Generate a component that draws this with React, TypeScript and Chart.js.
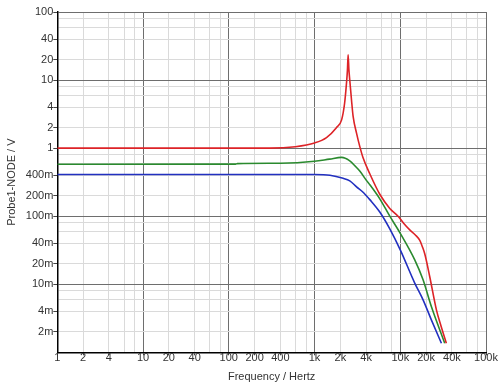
import React, { useEffect, useRef } from 'react';
import { Chart, registerables } from 'chart.js';

Chart.register(...registerables);

// Frequency (Hz) / voltage (V) samples
const redFreq = [1, 300, 600, 1000, 1380, 1800, 2070, 2245, 2360, 2420, 2466, 2520, 2577, 2700, 2820, 3090, 3370, 3683, 4413, 5770, 7550, 9430, 11000, 12900, 15000, 16900, 18200, 19300, 22080, 26400, 30000, 34500];
const redVolt = [1, 1.0, 1.05, 1.19, 1.43, 2.0, 2.6, 4.6, 9, 14, 23.5, 14, 10, 5.1, 2.92, 1.66, 1.06, 0.72, 0.42, 0.21, 0.13, 0.1, 0.078, 0.063, 0.053, 0.044, 0.035, 0.028, 0.0129, 0.0042, 0.0024, 0.00136];

const greenFreq = [1, 120, 126, 400, 1000, 1500, 2070, 2577, 3000, 3370, 4070, 4413, 5770, 7550, 10000, 14750, 18450, 23050, 33000];
const greenVolt = [0.58, 0.582, 0.592, 0.6, 0.64, 0.69, 0.73, 0.65, 0.54, 0.46, 0.33, 0.29, 0.18, 0.1, 0.056, 0.0228, 0.0116, 0.0047, 0.00136];

const blueFreq = [1, 1000, 1513, 2155, 2577, 3090, 3683, 4413, 5770, 7550, 10000, 14750, 18450, 23050, 30200];
const blueVolt = [0.41, 0.41, 0.4, 0.36, 0.33, 0.27, 0.225, 0.175, 0.115, 0.065, 0.032, 0.0104, 0.0059, 0.003, 0.00136];

const xTickValues = [1, 2, 4, 6, 8, 10, 20, 40, 60, 80, 100, 200, 400, 600, 800, 1000, 2000, 4000, 6000, 8000, 10000, 20000, 40000, 60000, 80000, 100000];
const xTickLabels = ['1', '2', '4', '', '', '10', '20', '40', '', '', '100', '200', '400', '', '', '1k', '2k', '4k', '', '', '10k', '20k', '40k', '', '', '100k'];

const yTickValues = [0.001, 0.002, 0.004, 0.006, 0.008, 0.01, 0.02, 0.04, 0.06, 0.08, 0.1, 0.2, 0.4, 0.6, 0.8, 1, 2, 4, 6, 8, 10, 20, 40, 60, 80, 100];
const yTickLabels = ['', '2m', '4m', '', '', '10m', '20m', '40m', '', '', '100m', '200m', '400m', '', '', '1', '2', '4', '', '', '10', '20', '40', '', '', '100'];

const FONT = '"Liberation Sans", Arial, sans-serif';

const isDecade = (v: number) => {
  const l = Math.log10(v);
  return Math.abs(l - Math.round(l)) < 1e-6;
};

const toPoints = (f: number[], v: number[]) => f.map((x, i) => ({ x, y: v[i] }));

export default function App() {
  const ref = useRef<HTMLCanvasElement | null>(null);

  useEffect(() => {
    if (!ref.current) return;
    const gridColor = (ctx: any) => {
      const v = ctx.tick ? ctx.tick.value : 1;
      return isDecade(v) ? '#6e6e6e' : '#dadada';
    };
    const tickColorFor = (labels: string[]) => (ctx: any) =>
      labels[ctx.index] ? '#444' : 'rgba(0,0,0,0)';

    const chart = new Chart(ref.current, {
      type: 'line',
      data: {
        datasets: [
          { data: toPoints(redFreq, redVolt), borderColor: '#dd2327', borderWidth: 1.6 },
          { data: toPoints(greenFreq, greenVolt), borderColor: '#2a8a2e', borderWidth: 1.6 },
          { data: toPoints(blueFreq, blueVolt), borderColor: '#2230c0', borderWidth: 1.6 },
        ],
      },
      options: {
        responsive: false,
        animation: false,
        devicePixelRatio: 1,
        layout: { padding: { top: 12, right: 14, left: 0, bottom: 0 } },
        plugins: { legend: { display: false }, tooltip: { enabled: false } },
        elements: {
          point: { radius: 0 },
          line: { cubicInterpolationMode: 'monotone', fill: false },
        },
        scales: {
          x: {
            type: 'logarithmic',
            min: 1,
            max: 100000,
            afterBuildTicks: (s: any) => {
              s.ticks = xTickValues.map((v) => ({ value: v }));
            },
            afterFit: (s: any) => {
              s.height = 37.7;
            },
            ticks: {
              callback: (_v: any, i: number) => xTickLabels[i],
              autoSkip: false,
              maxRotation: 0,
              minRotation: 0,
              padding: -4,
              color: '#333',
              font: { family: FONT, size: 11 },
            },
            grid: {
              color: gridColor,
              lineWidth: 1,
              tickLength: 3,
              tickColor: tickColorFor(xTickLabels),
            },
            border: { color: '#000', width: 1.5 },
            title: {
              display: true,
              text: 'Frequency / Hertz',
              color: '#333',
              font: { family: FONT, size: 11 },
              padding: { top: 0, bottom: 6 },
            },
          },
          y: {
            type: 'logarithmic',
            min: 0.001,
            max: 100,
            afterBuildTicks: (s: any) => {
              s.ticks = yTickValues.map((v) => ({ value: v }));
            },
            afterFit: (s: any) => {
              s.width = 57.3;
            },
            ticks: {
              callback: (_v: any, i: number) => yTickLabels[i],
              autoSkip: false,
              padding: 0,
              color: '#333',
              font: { family: FONT, size: 11 },
            },
            grid: {
              color: gridColor,
              lineWidth: 1,
              tickLength: 4,
              tickColor: tickColorFor(yTickLabels),
            },
            border: { color: '#000', width: 1.5 },
            title: {
              display: true,
              text: 'Probe1-NODE / V',
              color: '#333',
              font: { family: FONT, size: 11 },
              padding: { top: 5, bottom: 0 },
            },
          },
        },
      } as any,
    });
    return () => chart.destroy();
  }, []);

  return (
    <div style={{ position: 'absolute', left: 0, top: 0, width: 500, height: 390, background: '#fff' }}>
      <canvas ref={ref} width={500} height={390} style={{ display: 'block' }} />
    </div>
  );
}
